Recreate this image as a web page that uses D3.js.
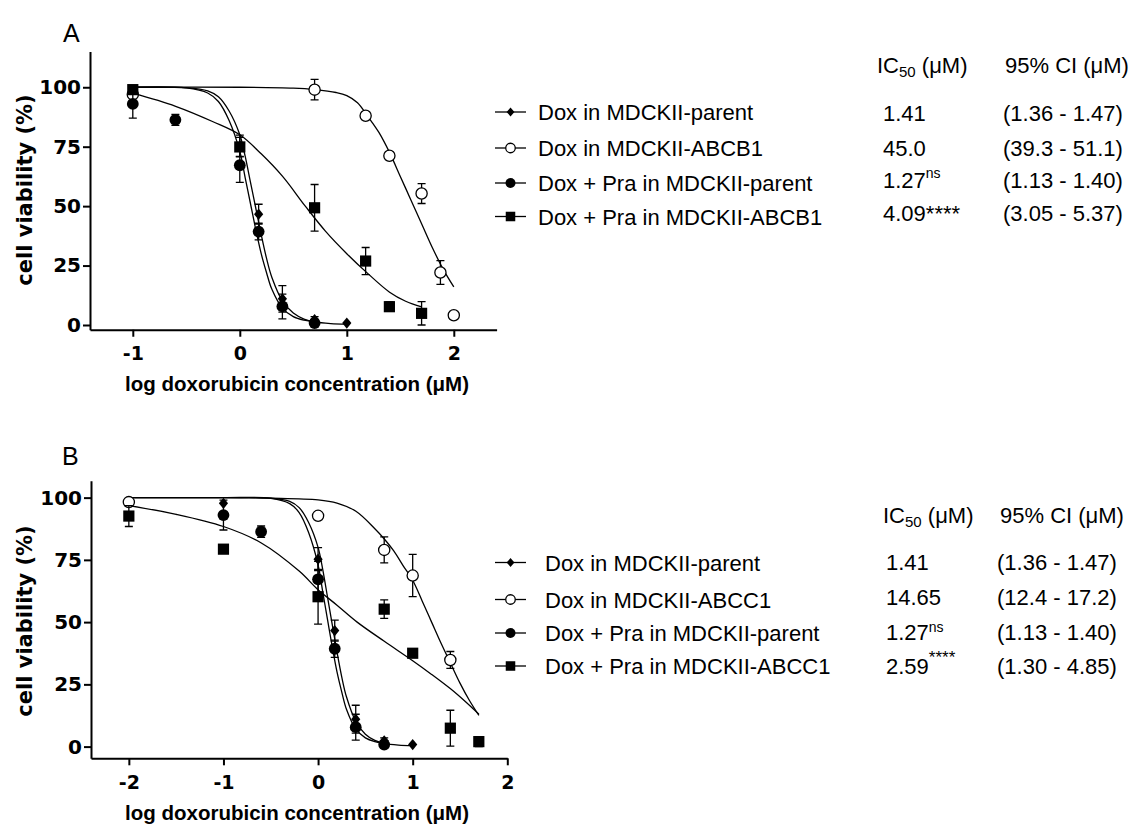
<!DOCTYPE html>
<html>
<head>
<meta charset="utf-8">
<script src="https://cdn.jsdelivr.net/npm/d3@7/dist/d3.min.js"></script>
<style>
body { margin: 0; background: #fff; }
svg { display: block; }
</style>
</head>
<body>
<script>
// DATA (log10 of doxorubicin concentration in µM, viability in %, SEM)
var logParent = [-1, 0, 0.176, 0.398, 0.699, 1];
var vParent = [97.7, 75.3, 46.6, 11.0, 2.3, 0.8];
var eParent = [0, 4.6, 4.2, 5.6, 1.2, 0];

var logPraParent = [-1, -0.602, 0, 0.176, 0.398, 0.699];
var vPraParent = [93.0, 86.3, 67.2, 39.3, 7.8, 0.8];
var ePraParent = [6.0, 2.3, 7.2, 3.5, 5.2, 0.6];

var logAbcb1 = [-1, 0.699, 1.176, 1.398, 1.699, 1.875, 2];
var vAbcb1 = [97.0, 99.0, 88.0, 71.2, 55.3, 22.1, 4.1];
var eAbcb1 = [0, 4.3, 0, 0, 4.2, 5.0, 0];

var logPraAbcb1 = [-1, 0, 0.699, 1.176, 1.398, 1.699];
var vPraAbcb1 = [99.0, 74.9, 49.3, 26.9, 7.7, 4.9];
var ePraAbcb1 = [0, 4.0, 9.8, 5.7, 2.0, 4.9];

var logAbcc1 = [-2, 0, 0.699, 1, 1.398];
var vAbcc1 = [98.2, 92.7, 79.0, 68.7, 34.8];
var eAbcc1 = [0, 0, 5.2, 8.5, 3.4];

var logPraAbcc1 = [-2, -1, 0, 0.699, 1, 1.398, 1.699];
var vPraAbcc1 = [92.6, 79.3, 60.2, 55.2, 37.5, 7.4, 2.0];
var ePraAbcc1 = [4.2, 0, 11.0, 3.7, 0, 7.2, 2.0];

// fitted curves
var fitParentX = [-2, -1, -0.5, -0.3, -0.2, -0.1, 0, 0.05, 0.1, 0.15, 0.2, 0.25, 0.3, 0.4, 0.5, 0.6, 0.7, 0.85, 1];
var fitParentY = [100, 100, 99.8, 98.5, 96, 90, 80, 71, 60, 49, 38, 28, 20, 10, 5, 2.5, 1.3, 0.6, 0.4];
var fitPraParentX = [-2, -1, -0.5, -0.3, -0.2, -0.1, 0, 0.05, 0.1, 0.15, 0.2, 0.25, 0.3, 0.4, 0.5, 0.6, 0.7];
var fitPraParentY = [100, 100, 99.7, 97.6, 94, 86, 73, 62, 51, 40, 30, 22, 15, 7, 3.5, 2, 1.3];
var fitAbcb1X = [-1, 0, 0.5, 0.7, 0.9, 1.0, 1.1, 1.2, 1.3, 1.4, 1.5, 1.6, 1.7, 1.8, 1.9, 2.0];
var fitAbcb1Y = [100, 100, 99.6, 99.0, 97.8, 96.5, 93.5, 87.5, 81, 72.5, 62.5, 52.5, 42.5, 32.5, 23.5, 16];
var fitPraAbcb1X = [-1, -0.6, -0.25, 0, 0.2, 0.4, 0.612, 0.8, 1.0, 1.2, 1.4, 1.55, 1.7];
var fitPraAbcb1Y = [97.5, 92, 85.5, 80, 72, 62.5, 50, 39.5, 30, 21.5, 13.8, 10, 7.6];
var fitAbcc1X = [-2, -1, -0.5, 0, 0.2, 0.4, 0.6, 0.7, 0.8, 0.9, 1.0, 1.1, 1.2, 1.3, 1.4, 1.5, 1.6, 1.7];
var fitAbcc1Y = [100, 100, 99.8, 99.1, 97.8, 94.5, 87.5, 83.4, 78.6, 72.6, 66.8, 58.5, 50, 41.5, 33.5, 25.5, 18.5, 12.5];
var fitPraAbcc1X = [-2, -1.5, -1, -0.6, -0.2, 0, 0.2, 0.413, 0.7, 1.0, 1.2, 1.4, 1.55, 1.7];
var fitPraAbcc1Y = [96.8, 93.3, 88.4, 81.8, 70.5, 63, 56.8, 50, 42.3, 34.5, 29, 23.2, 18.3, 13];

var namesA = ["Dox in MDCKII-parent", "Dox in MDCKII-ABCB1", "Dox + Pra in MDCKII-parent", "Dox + Pra in MDCKII-ABCB1"];
var ic50A = ["1.41", "45.0", "1.27", "4.09"];
var ciA = ["(1.36 - 1.47)", "(39.3 - 51.1)", "(1.13 - 1.40)", "(3.05 - 5.37)"];
var namesB = ["Dox in MDCKII-parent", "Dox in MDCKII-ABCC1", "Dox + Pra in MDCKII-parent", "Dox + Pra in MDCKII-ABCC1"];
var ic50B = ["1.41", "14.65", "1.27", "2.59"];
var ciB = ["(1.36 - 1.47)", "(12.4 - 17.2)", "(1.13 - 1.40)", "(1.30 - 4.85)"];
var sig = ["", "", "ns", "****"];

var yTicks = [0, 25, 50, 75, 100];
var symbols = ["diamond", "open", "circle", "square"];

// CONFIG
var SANS = '"Liberation Sans", Arial, sans-serif';
var WIDE = '"DejaVu Sans", Verdana, sans-serif';

var panels = [
	{
		letter: "A", letterPos: [63, 42],
		xDomain: [-1.4, 2.4], xRange: [90, 496.6], xTicks: [-1, 0, 1, 2], start: -1,
		yDomain: [-2, 115], yRange: [329.75, 51.6],
		yLabel: [25, 190], xLabel: [297, 391],
		series: [[logParent, vParent, eParent], [logAbcb1, vAbcb1, eAbcb1], [logPraParent, vPraParent, ePraParent], [logPraAbcb1, vPraAbcb1, ePraAbcb1]],
		fits: [[fitParentX, fitParentY], [fitAbcb1X, fitAbcb1Y], [fitPraParentX, fitPraParentY], [fitPraAbcb1X, fitPraAbcb1Y]],
		legend: {
			names: namesA, ic50: ic50A, ci: ciA,
			headY: 73, icX: 877, ciHeadX: 1005,
			symX: [495, 526], nameX: 538, symY: [112, 148, 183, 216.5], nameY: [120, 156, 191, 224.5],
			valX: 883, ciX: 1003, valY: [120.5, 156, 188, 221],
			sup: [null, null, { size: 14, dy: -10 }, { size: 22, dy: 0 }]
		}
	},
	{
		letter: "B", letterPos: [62, 464.5],
		xDomain: [-2.4, 2], xRange: [91, 507.3], xTicks: [-2, -1, 0, 1, 2], start: -2,
		yDomain: [-4.7, 106.8], yRange: [758.3, 480.7],
		yLabel: [25, 621], xLabel: [297, 819.5],
		series: [[logParent, vParent, eParent], [logAbcc1, vAbcc1, eAbcc1], [logPraParent, vPraParent, ePraParent], [logPraAbcc1, vPraAbcc1, ePraAbcc1]],
		fits: [[fitParentX, fitParentY], [fitAbcc1X, fitAbcc1Y], [fitPraParentX, fitPraParentY], [fitPraAbcc1X, fitPraAbcc1Y]],
		legend: {
			names: namesB, ic50: ic50B, ci: ciB,
			headY: 523, icX: 883, ciHeadX: 1000,
			symX: [495, 526], nameX: 545, symY: [562.5, 599.5, 633, 666], nameY: [571, 608, 641, 674],
			valX: 886, ciX: 997, valY: [570, 605, 640, 674],
			sup: [null, null, { size: 14, dy: -8 }, { size: 17, dy: -11 }]
		}
	}
];

var svg = d3.select("body").append("svg")
	.attr("width", 1137)
	.attr("height", 824);

function marker(g, kind, cx, cy, big) {
	var s = big ? 1 : 0.85;
	if (kind == "diamond") {
		var w = 4.6 * s, h = (big ? 5.6 : 4.4);
		g.append("path")
			.attr("d", "M" + cx + "," + (cy - h) + "L" + (cx + w) + "," + cy + "L" + cx + "," + (cy + h) + "L" + (cx - w) + "," + cy + "Z")
			.attr("fill", "#000");
	} else if (kind == "open") {
		g.append("circle").attr("cx", cx).attr("cy", cy).attr("r", 5.6 * s)
			.attr("fill", "#fff").attr("stroke", "#000").attr("stroke-width", 1.3);
	} else if (kind == "circle") {
		g.append("circle").attr("cx", cx).attr("cy", cy).attr("r", 5.9 * s).attr("fill", "#000");
	} else {
		var a = 5.6 * s;
		g.append("rect").attr("x", cx - a).attr("y", cy - a).attr("width", 2 * a).attr("height", 2 * a).attr("fill", "#000");
	}
}

panels.forEach(function(p) {
	var x = d3.scaleLinear().domain(p.xDomain).range(p.xRange);
	var y = d3.scaleLinear().domain(p.yDomain).range(p.yRange);
	var g = svg.append("g");

	g.append("text")
		.attr("x", p.letterPos[0]).attr("y", p.letterPos[1])
		.attr("font-family", SANS).attr("font-size", 25)
		.text(p.letter);

	// axes
	var ay = g.append("g")
		.attr("transform", "translate(" + p.xRange[0] + ",0)")
		.call(d3.axisLeft(y).tickValues(yTicks).tickSize(7).tickSizeOuter(0).tickPadding(2));
	var ax = g.append("g")
		.attr("transform", "translate(0," + p.yRange[0] + ")")
		.call(d3.axisBottom(x).tickValues(p.xTicks).tickFormat(function(d) { return String(d) }).tickSize(7).tickSizeOuter(0).tickPadding(10));
	[ay, ax].forEach(function(a) {
		a.select(".domain").attr("stroke", "#000").attr("stroke-width", 2);
		a.selectAll(".tick line").attr("stroke", "#000").attr("stroke-width", 2);
		a.selectAll(".tick text").attr("fill", "#000").attr("font-family", WIDE).attr("font-weight", "bold");
	});
	ay.selectAll(".tick text").attr("font-size", 20);
	ax.selectAll(".tick text").attr("font-size", 19);

	g.append("text")
		.attr("transform", "translate(" + p.yLabel[0] + "," + p.yLabel[1] + ") rotate(-90)")
		.attr("text-anchor", "middle").attr("dominant-baseline", "central")
		.attr("font-family", WIDE).attr("font-weight", "bold").attr("font-size", 21)
		.text("cell viability (%)");
	g.append("text")
		.attr("x", p.xLabel[0]).attr("y", p.xLabel[1])
		.attr("text-anchor", "middle")
		.attr("font-family", SANS).attr("font-weight", "bold").attr("font-size", 20.5)
		.text("log doxorubicin concentration (\u03bcM)");

	// fitted curves
	var line = d3.line()
		.x(function(d) { return x(d[0]) })
		.y(function(d) { return y(d[1]) })
		.curve(d3.curveCatmullRom.alpha(0.5));
	p.fits.forEach(function(f) {
		var pts = d3.zip(f[0], f[1]).filter(function(d) { return d[0] >= p.start });
		g.append("path").attr("d", line(pts))
			.attr("fill", "none").attr("stroke", "#000").attr("stroke-width", 1.3);
	});

	// points with error bars
	p.series.forEach(function(s, i) {
		var sg = g.append("g");
		d3.zip(s[0], s[1], s[2]).forEach(function(d) {
			if (d[2] > 0) {
				var cx = x(d[0]), y0 = y(d[1] - d[2]), y1 = y(d[1] + d[2]);
				sg.append("path")
					.attr("d", "M" + cx + "," + y0 + "V" + y1 + "M" + (cx - 4) + "," + y0 + "H" + (cx + 4) + "M" + (cx - 4) + "," + y1 + "H" + (cx + 4))
					.attr("fill", "none").attr("stroke", "#000").attr("stroke-width", 1.3);
			}
			marker(sg, symbols[i], x(d[0]), y(d[1]), true);
		});
	});

	// legend / IC50 table
	var L = p.legend;
	var head = g.append("text").attr("x", L.icX).attr("y", L.headY)
		.attr("font-family", SANS).attr("font-size", 22);
	head.append("tspan").text("IC");
	head.append("tspan").attr("font-size", 15).attr("dy", 4).text("50");
	head.append("tspan").attr("dy", -4).text(" (\u03bcM)");
	g.append("text").attr("x", L.ciHeadX).attr("y", L.headY)
		.attr("font-family", SANS).attr("font-size", 22)
		.text("95% CI (\u03bcM)");

	L.names.forEach(function(n, i) {
		g.append("line")
			.attr("x1", L.symX[0]).attr("x2", L.symX[1])
			.attr("y1", L.symY[i]).attr("y2", L.symY[i])
			.attr("stroke", "#000").attr("stroke-width", 1.3);
		marker(g, symbols[i], (L.symX[0] + L.symX[1]) / 2, L.symY[i], false);
		g.append("text").attr("x", L.nameX).attr("y", L.nameY[i])
			.attr("font-family", SANS).attr("font-size", 22).text(n);

		var v = g.append("text").attr("x", L.valX).attr("y", L.valY[i])
			.attr("font-family", SANS).attr("font-size", 22);
		v.append("tspan").text(L.ic50[i]);
		if (L.sup[i]) {
			v.append("tspan").attr("font-size", L.sup[i].size).attr("dy", L.sup[i].dy).text(sig[i]);
		}
		g.append("text").attr("x", L.ciX).attr("y", L.valY[i])
			.attr("font-family", SANS).attr("font-size", 22).text(L.ci[i]);
	});
});
</script>
</body>
</html>
